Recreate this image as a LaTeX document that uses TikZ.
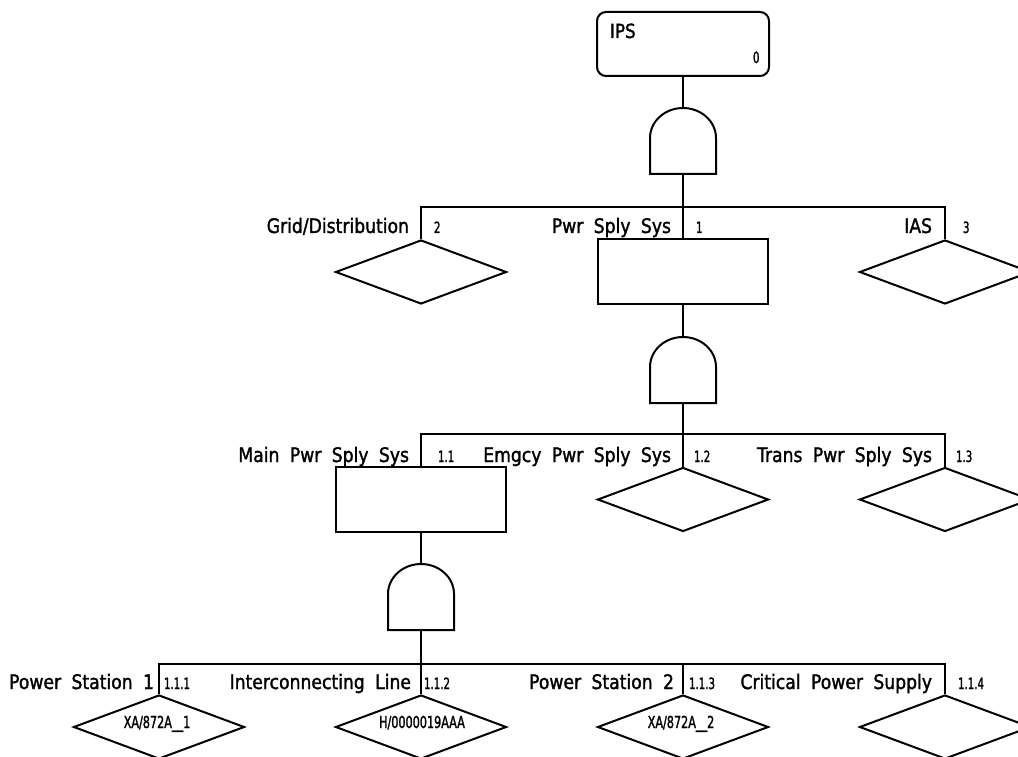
\documentclass[tikz,border=0pt]{standalone}
\usepackage{fontspec}
\setmainfont{DejaVu Sans}[FakeStretch=0.86, FakeBold=1.5, WordSpace=1.9]
\newfontfamily\numfont{DejaVu Sans}[FakeStretch=0.66, FakeBold=1.5]
\newfontfamily\codefont{DejaVu Sans}[FakeStretch=0.68, FakeBold=1.5]
\usetikzlibrary{shapes.geometric}
\tikzset{
  evt/.style={draw, diamond, minimum width=171pt, minimum height=64pt, inner sep=0pt},
  sysbox/.style={draw, rectangle, minimum width=170pt, minimum height=65pt, inner sep=0pt},
  topbox/.style={draw, rectangle, rounded corners=9pt, minimum width=172pt, minimum height=64pt, inner sep=0pt},
  lbl/.style={anchor=base east, inner sep=0pt, font=\fontsize{20}{24}\selectfont},
  num/.style={anchor=base west, inner sep=0pt, font=\numfont\fontsize{15.5}{17}\selectfont},
  code/.style={anchor=base, inner sep=0pt, font=\codefont\fontsize{16.5}{18}\selectfont},
  andgate/.pic={
    \draw (-33,0) -- (-33,-36) arc[start angle=180, end angle=0, x radius=33pt, y radius=30pt] -- (33,0) -- cycle;
    \coordinate (-top) at (0,-66);
    \coordinate (-bot) at (0,0);
  }
}
\begin{document}
\begin{tikzpicture}[x=1pt, y=-1pt, line width=2pt]
\useasboundingbox (0,0) rectangle (1018,757);

% top event
\node[topbox] (ips) at (683,44) {};
\node[anchor=base west, inner sep=0pt, font=\fontsize{19.5}{22}\selectfont] (ipst) at (609,38) {IPS};
\node[num] (ipsn) at (752,63) {0};
\pic (g1) at (683,174) {andgate};
\coordinate (j1) at (683,207);

% level 1
\node[evt] (grid) at (421,272) {};
\node[sysbox] (pss) at (683,271.5) {};
\node[evt] (ias) at (945,272) {};
\node[lbl] (gridl) at (410,233) {Grid/Distribution};
\node[num] (gridn) at (433,233) {2};
\node[lbl] (pssl) at (672,233) {Pwr Sply Sys};
\node[num] (pssn) at (695,233) {1};
\node[lbl] (iasl) at (933,233) {IAS};
\node[num] (iasn) at (962,233) {3};

\draw (ips.south) -- (g1-top);
\draw (g1-bot) -- (j1);
\draw (j1) -| (grid.north);
\draw (j1) -| (ias.north);
\draw (j1) -- (pss.north);

% level 2
\pic (g2) at (683,403) {andgate};
\coordinate (j2) at (683,434);
\node[sysbox] (main) at (421,499.5) {};
\node[evt] (emg) at (683,499.5) {};
\node[evt] (trans) at (945,499.5) {};
\node[lbl] (mainl) at (410,462) {Main Pwr Sply Sys};
\node[num] (mainn) at (437,462) {1.1};
\node[lbl] (emgl) at (672,462) {Emgcy Pwr Sply Sys};
\node[num] (emgn) at (693,462) {1.2};
\node[lbl] (transl) at (933,462) {Trans Pwr Sply Sys};
\node[num] (transn) at (955,462) {1.3};

\draw (pss.south) -- (g2-top);
\draw (g2-bot) -- (j2);
\draw (j2) -| (main.north);
\draw (j2) -| (trans.north);
\draw (j2) -- (emg.north);

% level 3
\pic (g3) at (421,630) {andgate};
\coordinate (j3) at (421,664);
\node[evt] (ps1) at (159,727) {};
\node[evt] (icl) at (421,727) {};
\node[evt] (ps2) at (683,727) {};
\node[evt] (cps) at (945,727) {};
\node[code] (ps1c) at (157,728) {XA/872A\_\_1};
\node[code] (iclc) at (422,728) {H/0000019AAA};
\node[code] (ps2c) at (681,728) {XA/872A\_\_2};
\node[lbl] (ps1l) at (155,689) {Power Station 1};
\node[num] (ps1n) at (163,689) {1.1.1};
\node[lbl] (icll) at (412,689) {Interconnecting Line};
\node[num] (icln) at (423,689) {1.1.2};
\node[lbl] (ps2l) at (675,689) {Power Station 2};
\node[num] (ps2n) at (688,689) {1.1.3};
\node[lbl] (cpsl) at (933,689) {Critical Power Supply};
\node[num] (cpsn) at (957,689) {1.1.4};

\draw (main.south) -- (g3-top);
\draw (g3-bot) -- (j3);
\draw (j3) -| (ps1.north);
\draw (j3) -| (cps.north);
\draw (j3) -- (icl.north);
\draw (j3) -| (ps2.north);
\end{tikzpicture}
\end{document}
